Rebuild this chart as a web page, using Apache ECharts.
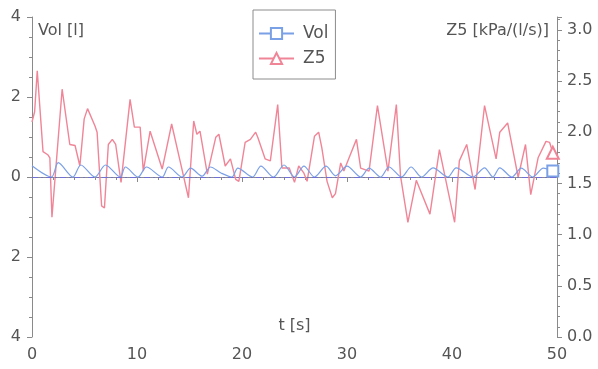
<!DOCTYPE html>
<html>
<head>
<meta charset="utf-8">
<script src="https://cdn.jsdelivr.net/npm/echarts@6/dist/echarts.min.js"></script>
<style>
  html, body { margin: 0; padding: 0; background: #fff; }
  #chart { width: 598px; height: 369px; }
</style>
</head>
<body>
<div id="chart"></div>
<script>
// Vol [l] — time (s) and volume, left axis
const volT = [0, 1.85, 2.5, 3.9, 4.65, 6.0, 7.0, 8.4, 8.9, 10.1, 10.9, 12.4, 13.0, 14.3, 15.1, 16.2, 17.0, 18.0, 19.05, 19.6,
  21.0, 21.8, 23.0, 24.0, 25.0, 25.9, 26.9, 28.0, 28.9, 30.0, 31.3, 32.1, 33.2, 34.0, 35.2, 36.1, 37.1, 38.2, 39.6, 40.4,
  42.0, 43.1, 43.9, 44.55, 45.7, 46.6, 47.7, 48.7, 49.6];
const volV = [0.28, 0.0, 0.36, 0.0, 0.3, 0.0, 0.3, 0.0, 0.25, 0.0, 0.25, 0.0, 0.25, 0.0, 0.22, 0.02, 0.25, 0.1, 0.0, 0.22,
  0.0, 0.27, 0.0, 0.3, 0.0, 0.27, 0.0, 0.27, 0.03, 0.27, 0.0, 0.22, 0.0, 0.25, 0.0, 0.25, 0.0, 0.23, 0.0, 0.23,
  0.0, 0.23, 0.0, 0.23, 0.0, 0.22, 0.0, 0.22, 0.15];

// Z5 [kPa/(l/s)] — right axis
const z5T = [0, 0.25, 0.5, 1.05, 1.5, 1.7, 1.9, 2.87, 3.6, 4.1, 4.56, 4.97, 5.29, 6.0, 6.2, 6.63, 6.9, 7.27, 7.65, 7.97,
  8.48, 9.34, 9.75, 10.3, 10.6, 11.25, 12.4, 13.3, 14.1, 14.9, 15.4, 15.7, 16.0, 16.7, 17.5, 17.8, 18.4, 18.9, 19.4, 19.7,
  20.3, 20.8, 21.3, 21.5, 22.2, 22.7, 23.4, 23.8, 24.5, 25.0, 25.4, 25.9, 26.2, 26.9, 27.3, 27.6, 28.1, 28.6, 28.9, 29.4,
  29.7, 30.2, 30.9, 31.3, 32.1, 32.9, 33.9, 34.7, 35.1, 35.8, 36.6, 37.9, 38.8, 40.25, 40.7, 41.4, 42.2, 43.1, 44.2, 44.55,
  45.3, 46.3, 47.0, 47.5, 48.2, 48.95, 49.3, 49.6];
const z5V = [2.1, 2.2, 2.6, 1.81, 1.78, 1.75, 1.17, 2.42, 1.88, 1.87, 1.67, 2.13, 2.23, 2.06, 2.0, 1.28, 1.26, 1.88, 1.93, 1.88,
  1.51, 2.32, 2.05, 2.05, 1.62, 2.01, 1.64, 2.08, 1.72, 1.36, 2.11, 1.98, 2.01, 1.59, 1.95, 1.98, 1.67, 1.74, 1.54, 1.52,
  1.9, 1.93, 2.0, 1.95, 1.74, 1.72, 2.27, 1.65, 1.65, 1.51, 1.67, 1.6, 1.52, 1.96, 2.0, 1.85, 1.52, 1.36, 1.4, 1.7,
  1.62, 1.75, 1.93, 1.65, 1.62, 2.26, 1.62, 2.27, 1.57, 1.12, 1.53, 1.2, 1.83, 1.12, 1.72, 1.88, 1.44, 2.26, 1.74, 2.0,
  2.09, 1.56, 1.88, 1.39, 1.75, 1.91, 1.9, 1.8];

const leftTicks = { min: -4, max: 4, interval: 2 };
const rightTicks = { min: 0, max: 3.125, interval: 0.5 };
const xTicks = { min: 0, max: 50, interval: 10 };

// only the last point gets a marker, like the original plot
function withEndMarker(ts, vs) {
  return ts.map((t, i) => i === ts.length - 1 ? [t, vs[i]] : { value: [t, vs[i]], symbol: 'none' });
}

const chart = echarts.init(document.getElementById('chart'));
const font = 'DejaVu Sans';
const axisCol = '#8a8a8a';
const textCol = '#555';

chart.setOption({
  animation: false,
  backgroundColor: '#fff',
  textStyle: { fontFamily: font },
  grid: { left: 32, right: 41, top: 17, bottom: 32, containLabel: false, outerBoundsMode: 'none' },
  legend: {
    orient: 'vertical',
    left: 253,
    top: 10,
    padding: [15, 7, 12, 5],
    itemGap: 8,
    itemWidth: 35,
    itemHeight: 14,
    borderColor: '#8c8c8c',
    borderWidth: 1,
    backgroundColor: '#fff',
    textStyle: { fontSize: 17, color: textCol, fontFamily: font, padding: [0, 0, 0, 4] },
    data: ['Vol', 'Z5']
  },
  xAxis: {
    type: 'value',
    min: xTicks.min,
    max: xTicks.max,
    interval: xTicks.interval,
    name: 't [s]',
    nameLocation: 'middle',
    nameGap: -19,
    nameMoveOverlap: false,
    nameTextStyle: { fontSize: 16, color: textCol, fontFamily: font },
    axisLine: { lineStyle: { color: axisCol } },
    axisTick: { length: 5, lineStyle: { color: axisCol } },
    minorTick: { show: true, splitNumber: 5, length: 3, lineStyle: { color: axisCol } },
    axisLabel: { fontSize: 16, color: textCol, margin: 10 },
    splitLine: { show: false }
  },
  yAxis: [
    {
      type: 'value',
      min: leftTicks.min,
      max: leftTicks.max,
      interval: leftTicks.interval,
      name: 'Vol [l]',
      nameLocation: 'end',
      nameGap: -6,
      nameMoveOverlap: false,
      nameTextStyle: { fontSize: 16, color: textCol, align: 'left', verticalAlign: 'top', padding: [0, 0, 0, 6] },
      axisLine: { show: true, lineStyle: { color: axisCol } },
      axisTick: { show: true, length: 5, lineStyle: { color: axisCol } },
      minorTick: { show: true, splitNumber: 4, length: 3, lineStyle: { color: axisCol } },
      axisLabel: { fontSize: 16, color: textCol, margin: 11, formatter: v => String(Math.abs(v)) },
      splitLine: { show: false }
    },
    {
      type: 'value',
      position: 'right',
      min: rightTicks.min,
      max: rightTicks.max,
      interval: rightTicks.interval,
      name: 'Z5 [kPa/(l/s)]',
      nameLocation: 'end',
      nameGap: -6,
      nameMoveOverlap: false,
      nameTextStyle: { fontSize: 16, color: textCol, align: 'right', verticalAlign: 'top', padding: [0, 8, 0, 0] },
      axisLine: { show: true, lineStyle: { color: axisCol } },
      axisTick: { show: true, length: 5, lineStyle: { color: axisCol } },
      minorTick: { show: true, splitNumber: 5, length: 3, lineStyle: { color: axisCol } },
      axisLabel: { fontSize: 16, color: textCol, margin: 10, showMaxLabel: false, formatter: v => v.toFixed(1) },
      splitLine: { show: false }
    }
  ],
  series: [
    {
      name: 'Vol',
      type: 'line',
      yAxisIndex: 0,
      symbol: 'emptyRect',
      symbolSize: 11,
      smooth: 0.3,
      color: '#7aa0e6',
      lineStyle: { width: 1.2, color: '#7aa0e6' },
      itemStyle: { color: '#7aa0e6', borderWidth: 1.2 },
      data: withEndMarker(volT, volV),
      markLine: {
        silent: true,
        symbol: 'none',
        label: { show: false },
        lineStyle: { color: '#6f6fd6', width: 1, type: [6, 3, 2, 3] },
        data: [{ yAxis: 0 }]
      },
      z: 3
    },
    {
      name: 'Z5',
      type: 'line',
      yAxisIndex: 1,
      symbol: 'emptyTriangle',
      symbolSize: 12,
      color: '#f08597',
      lineStyle: { width: 1.4, color: '#f08597' },
      itemStyle: { color: '#f08597', borderWidth: 1.2 },
      data: withEndMarker(z5T, z5V),
      z: 2
    }
  ]
});
</script>
</body>
</html>
